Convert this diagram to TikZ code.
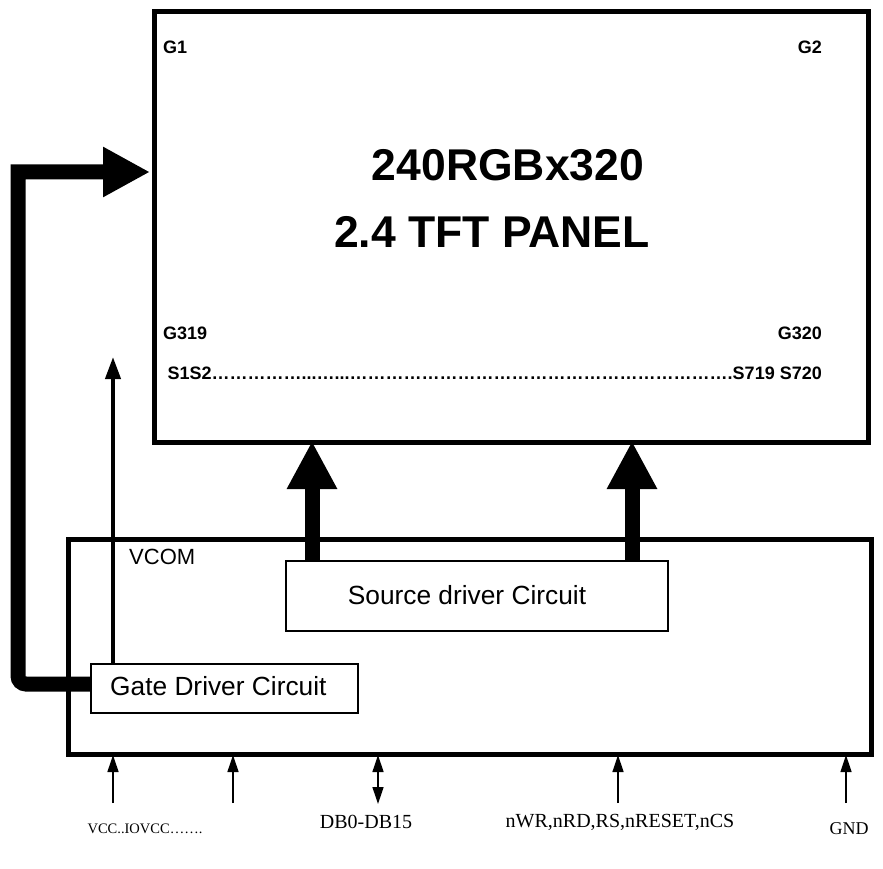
\documentclass[tikz,border=0pt]{standalone}
\usepackage{fontspec}
\setmainfont{Liberation Serif}
\newfontfamily\arialf{Liberation Sans}
\usetikzlibrary{arrows.meta}
\tikzset{
  frame/.style={draw=black, line width=5pt, fill=none},
  drvbox/.style={draw=black, line width=1.5pt, fill=white, inner sep=0pt},
  bigarrow/.style={line width=15pt, -{Triangle[width=47pt,length=48pt]}},
  thinarrow/.style={line width=1.3pt, -{Triangle[width=11pt,length=17pt]}},
  dblarrow/.style={line width=1.3pt, {Triangle[width=11pt,length=17pt]}-{Triangle[width=11pt,length=17pt]}},
  pinlabel/.style={font=\fontsize{20}{23}\selectfont, inner sep=0pt},
  glabel/.style={font=\arialf\bfseries\fontsize{18}{21}\selectfont, inner sep=0pt},
  title/.style={font=\arialf\bfseries\fontsize{44.5}{50}\selectfont, inner sep=0pt},
  boxtext/.style={font=\arialf\fontsize{26.3}{30}\selectfont, inner sep=0pt}
}
\begin{document}
\begin{tikzpicture}[x=1pt,y=-1pt]
\useasboundingbox (0,0) rectangle (883,869);
% panel
\node[frame, minimum width=714pt, minimum height=431pt, anchor=north west, inner sep=0pt] (panel) at (152,9) {};
% controller box
\node[frame, minimum width=803pt, minimum height=215pt, anchor=north west, inner sep=0pt] (ctrl) at (66,537) {};
% panel texts
\node[glabel, anchor=west] (g1) at (163,47) {G1};
\node[glabel, anchor=east] (g2) at (822,47) {G2};
\node[glabel, anchor=west] (g319) at (163,333) {G319};
\node[glabel, anchor=east] (g320) at (822,333) {G320};
\node[glabel, anchor=east] (sline) at (822,373) {S1S2……………...…...……………………………………………………….S719 S720};
\node[title] (t1) at (508,165) {240RGBx320};
\node[title] (t2) at (492,232) {2.4 TFT PANEL};
% driver boxes
\node[drvbox, minimum width=382pt, minimum height=70pt, anchor=north west] (src) at (285,560) {};
\node[boxtext] (srct) at (467,595) {Source driver Circuit};
\node[drvbox, minimum width=267pt, minimum height=49pt, anchor=north west] (gate) at (90,663) {};
\node[boxtext, anchor=west] (gatet) at (110,686) {Gate Driver Circuit};
\node[anchor=west, inner sep=0pt, font=\arialf\fontsize{22}{26}\selectfont] (vcom) at (129,557) {VCOM};
% source arrows
\coordinate (s1b) at (312,560);
\coordinate (s1t) at (312,441);
\coordinate (s2b) at (632,560);
\coordinate (s2t) at (632,441);
\draw[bigarrow] (s1b) -- (s1t);
\draw[bigarrow] (s2b) -- (s2t);
% gate connector
\coordinate (gl) at (90,684);
\coordinate (c1) at (18,684);
\coordinate (c2) at (18,172);
\coordinate (pin) at (150,172);
\draw[line width=15pt, -{Triangle[width=47pt,length=47pt]}] (gl) [rounded corners=8pt] -- (c1) [sharp corners] -- (c2) -- (pin);
% VCOM arrow
\coordinate (vb) at (113,663);
\coordinate (vt) at (113,357);
\draw[line width=4pt, -{Triangle[width=15pt,length=22pt]}] (vb) -- (vt);
% pins
\foreach \n/\x in {p1/113, p2/233, p4/618, p5/846}{
  \coordinate (\n b) at (\x,803);
  \coordinate (\n t) at (\x,755);
  \draw[thinarrow] (\n b) -- (\n t);
}
\coordinate (p3b) at (378,804);
\coordinate (p3t) at (378,755);
\draw[dblarrow] (p3b) -- (p3t);
\node[pinlabel, font=\fontsize{14.5}{17}\selectfont] (l1) at (145,829) {VCC..IOVCC…….};
\node[pinlabel] (l2) at (366,822) {DB0-DB15};
\node[pinlabel] (l3) at (620,822) {nWR,nRD,RS,nRESET,nCS};
\node[pinlabel, font=\fontsize{18}{21}\selectfont] (l4) at (849,829) {GND};
\end{tikzpicture}
\end{document}
